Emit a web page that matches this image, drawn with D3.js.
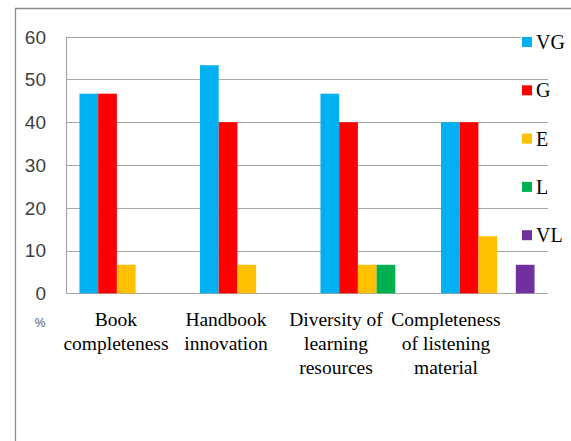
<!DOCTYPE html>
<html>
<head>
<meta charset="utf-8">
<script src="https://cdn.jsdelivr.net/npm/d3@7"></script>
<style>
  html, body { margin: 0; padding: 0; background: #fff; }
  svg { display: block; }
</style>
</head>
<body>
<script>
// Share of responses (%) per rating level for each aspect of the learning material
const categories = [
  ["Book", "completeness"],
  ["Handbook", "innovation"],
  ["Diversity of", "learning", "resources"],
  ["Completeness", "of listening", "material"]
];
const seriesNames = ["VG", "G", "E", "L", "VL"];
const seriesColors = ["#00B0F0", "#FF0000", "#FFC000", "#00B050", "#7030A0"];
const valuesVG = [46.67, 53.33, 46.67, 40];
const valuesG  = [46.67, 40, 40, 40];
const valuesE  = [6.67, 6.67, 6.67, 13.33];
const valuesL  = [0, 0, 6.67, 0];
const valuesVL = [0, 0, 0, 6.67];
const yTicks = [0, 10, 20, 30, 40, 50, 60];

const series = [valuesVG, valuesG, valuesE, valuesL, valuesVL];

const SERIF = '"Liberation Serif"';
const SANS = '"Liberation Sans"';

const W = 571, H = 441;
const plot = { left: 66, right: 548, top: 36.7, bottom: 293.3 };

const svg = d3.select("body").append("svg")
  .attr("width", W).attr("height", H);

// outer frame
svg.append("path")
  .attr("d", `M15.5,${H} V8.5 H${W}`)
  .attr("fill", "none")
  .attr("stroke", "#8c8c8c")
  .attr("stroke-width", 1.3);

const catKeys = categories.map((c, i) => i);
const x = d3.scaleBand().domain(catKeys).range([plot.left, plot.right]);
const xInner = d3.scaleBand().domain(seriesNames)
  .range([0, x.bandwidth()]).paddingInner(0).paddingOuter(0.72);
const y = d3.scaleLinear().domain([0, 60]).range([plot.bottom, plot.top]);

// horizontal gridlines
svg.append("g").selectAll("line").data(yTicks).join("line")
  .attr("x1", plot.left).attr("x2", plot.right)
  .attr("y1", d => Math.round(y(d)) + 0.5).attr("y2", d => Math.round(y(d)) + 0.5)
  .attr("stroke", "#a6a6a6").attr("stroke-width", 1.2);

// value axis line
svg.append("line")
  .attr("x1", plot.left + 0.5).attr("x2", plot.left + 0.5)
  .attr("y1", y(60)).attr("y2", y(0))
  .attr("stroke", "#a6a6a6").attr("stroke-width", 1.2);

// y tick labels
svg.append("g").selectAll("text").data(yTicks).join("text")
  .attr("x", 46).attr("y", d => y(d))
  .attr("dy", "0.36em")
  .attr("text-anchor", "end")
  .style("font-family", SANS)
  .style("font-size", "19px")
  .attr("fill", "#404040")
  .text(d => d);

// bars
const groups = svg.append("g").selectAll("g").data(catKeys).join("g")
  .attr("transform", d => `translate(${x(d)},0)`);
groups.selectAll("rect")
  .data(ci => seriesNames.map((s, si) => ({ s, si, v: series[si][ci] })))
  .join("rect")
  .attr("x", d => xInner(d.s))
  .attr("width", xInner.bandwidth())
  .attr("y", d => y(d.v))
  .attr("height", d => y(0) - y(d.v))
  .attr("fill", d => seriesColors[d.si]);

// category labels
const xLabel = d3.scalePoint().domain(catKeys).range([116, 446]);
const labels = svg.append("g").selectAll("text").data(catKeys).join("text")
  .attr("x", d => xLabel(d))
  .attr("y", 326)
  .attr("text-anchor", "middle")
  .style("font-family", SERIF)
  .style("font-size", "19.5px")
  .attr("fill", "#000");
labels.selectAll("tspan").data(d => categories[d]).join("tspan")
  .attr("x", function () { return d3.select(this.parentNode).attr("x"); })
  .attr("dy", (d, i) => i === 0 ? 0 : 23.8)
  .text(d => d);

// unit label
svg.append("text")
  .attr("x", 40).attr("y", 327)
  .attr("text-anchor", "middle")
  .style("font-family", SANS)
  .style("font-size", "12px")
  .attr("fill", "#595959")
  .text("%");

// legend
const legend = svg.append("g");
legend.append("rect")
  .attr("x", 521).attr("y", 34).attr("width", 50).attr("height", 10)
  .attr("fill", "#fff");
const items = legend.selectAll("g").data(seriesNames).join("g")
  .attr("transform", (d, i) => `translate(522,${42 + i * 48.3})`);
items.append("rect")
  .attr("x", 0).attr("y", -5).attr("width", 10).attr("height", 10)
  .attr("fill", (d, i) => seriesColors[i]);
items.append("text")
  .attr("x", 14).attr("y", 0).attr("dy", "0.35em")
  .style("font-family", SERIF)
  .style("font-size", "20px")
  .attr("fill", "#000")
  .text(d => d);
</script>
</body>
</html>
